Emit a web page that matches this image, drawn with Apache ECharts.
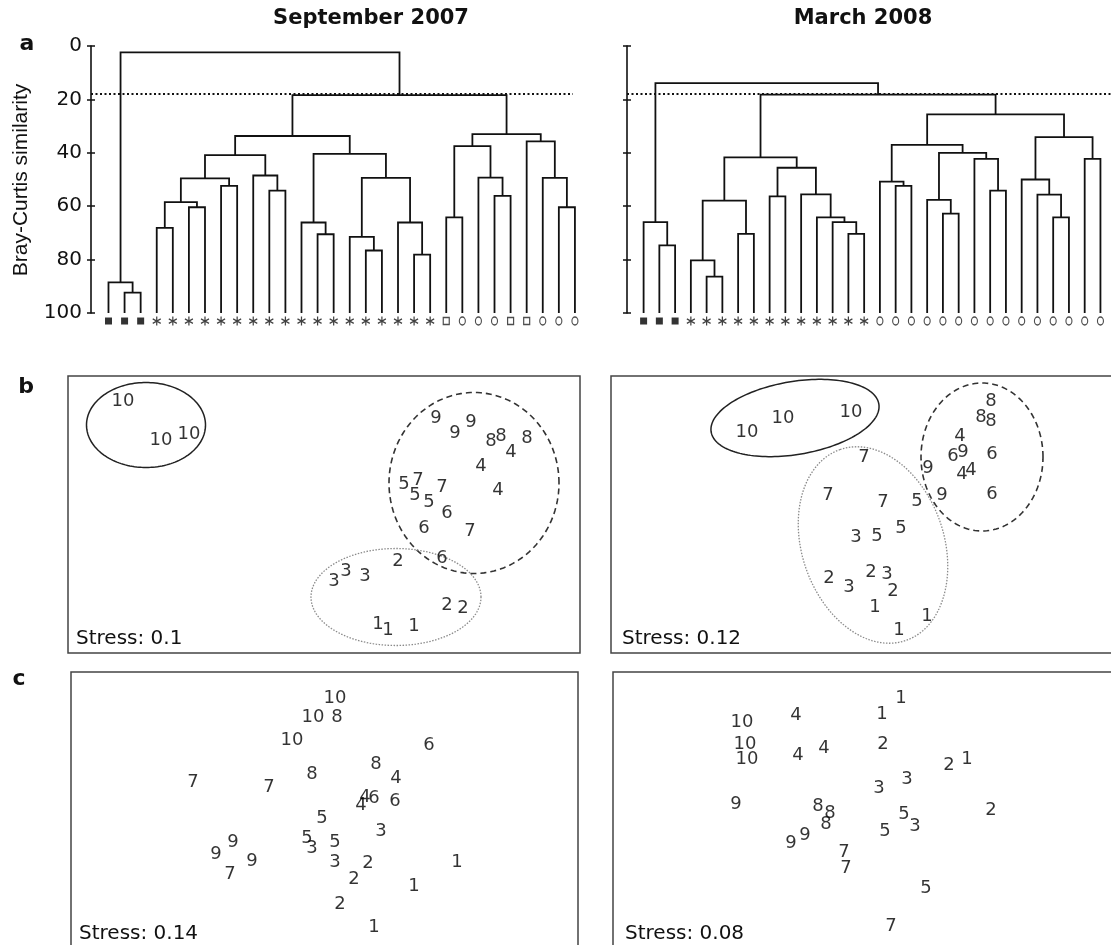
<!DOCTYPE html>
<html>
<head>
<meta charset="utf-8">
<script src="https://cdn.jsdelivr.net/npm/echarts@6/dist/echarts.min.js"></script>
<style>
html, body { margin: 0; padding: 0; background: #fff; }
#chart { width: 1111px; height: 945px; }
</style>
</head>
<body>
<div id="chart"></div>
<script>
// ---- data ----
const simTicks = [0, 20, 40, 60, 80, 100];
const cutLevel = 18;

// merges like hclust: negative = leaf -(i+1), positive = earlier merge (1-based), then height
const sepMerges = [
  [-2, -3, 92.4], [-1, 1, 88.5], [-4, -5, 68.1], [-6, -7, 60.4], [3, 4, 58.5],
  [-8, -9, 52.4], [5, 6, 49.6], [-11, -12, 54.2], [-10, 8, 48.5], [7, 9, 40.9],
  [-14, -15, 70.5], [-13, 11, 66.1], [-17, -18, 76.6], [-16, 13, 71.5], [-20, -21, 78.1],
  [-19, 15, 66.1], [14, 16, 49.4], [12, 17, 40.4], [10, 18, 33.7], [-22, -23, 64.2],
  [-25, -26, 56.1], [-24, 21, 49.3], [20, 22, 37.5], [-29, -30, 60.4], [-28, 24, 49.4],
  [-27, 25, 35.7], [23, 26, 33.0], [19, 27, 18.4], [2, 28, 2.4]
];
const marMerges = [
  [-2, -3, 74.7], [-1, 1, 66.0], [-5, -6, 86.4], [-4, 3, 80.3], [-7, -8, 70.4],
  [4, 5, 57.9], [-9, -10, 56.3], [-14, -15, 70.4], [-13, 8, 66.0], [-12, 9, 64.2],
  [-11, 10, 55.6], [7, 11, 45.6], [6, 12, 41.7], [-17, -18, 52.4], [-16, 14, 50.8],
  [-20, -21, 62.8], [-19, 16, 57.6], [-23, -24, 54.2], [-22, 18, 42.3], [17, 19, 40.0],
  [15, 20, 37.0], [-27, -28, 64.2], [-26, 22, 55.7], [-25, 23, 50.0], [-29, -30, 42.3],
  [24, 25, 34.1], [21, 26, 25.6], [13, 27, 18.2], [2, 28, 13.9]
];
// S = filled square, A = asterisk, C = open circle, Q = open square
const sepLeafType = 'SSSAAAAAAAAAAAAAAAAAAQCCCQQCCC';
const marLeafType = 'SSSAAAAAAAAAAAACCCCCCCCCCCCCCC';

// NMDS ordinations: [x, y, site label]
const bSepPts = [
  [55, 252, '10'], [93, 213, '10'], [121, 219, '10'],
  [368, 235, '9'], [387, 220, '9'], [403, 231, '9'],
  [423, 212, '8'], [433, 217, '8'], [443, 201, '4'], [459, 215, '8'], [413, 187, '4'],
  [336, 169, '5'], [350, 173, '7'], [347, 158, '5'], [361, 151, '5'], [374, 166, '7'], [430, 163, '4'],
  [379, 140, '6'], [356, 125, '6'], [402, 122, '7'], [330, 92, '2'], [374, 95, '6'],
  [266, 72, '3'], [278, 82, '3'], [297, 77, '3'], [379, 48, '2'], [395, 45, '2'],
  [310, 29, '1'], [320, 23, '1'], [346, 27, '1']
];
const bMarPts = [
  [136, 221, '10'], [172, 235, '10'], [240, 241, '10'],
  [380, 252, '8'], [370, 236, '8'], [380, 232, '8'], [349, 217, '4'],
  [342, 197, '6'], [352, 201, '9'], [381, 199, '6'], [317, 185, '9'], [351, 179, '4'], [360, 183, '4'],
  [253, 196, '7'], [217, 158, '7'], [272, 151, '7'], [306, 152, '5'], [331, 158, '9'], [381, 159, '6'],
  [245, 116, '3'], [266, 117, '5'], [290, 125, '5'],
  [218, 75, '2'], [238, 66, '3'], [260, 81, '2'], [276, 79, '3'], [282, 62, '2'],
  [264, 46, '1'], [316, 37, '1'], [288, 23, '1']
];
const cSepPts = [
  [264, 252, '10'], [242, 233, '10'], [266, 233, '8'], [221, 210, '10'], [358, 205, '6'],
  [305, 186, '8'], [325, 172, '4'], [122, 168, '7'], [198, 163, '7'], [241, 176, '8'],
  [290, 145, '4'], [294, 153, '4'], [303, 152, '6'], [324, 149, '6'], [251, 132, '5'],
  [310, 119, '3'], [236, 112, '5'], [241, 102, '3'], [264, 108, '5'], [162, 108, '9'],
  [145, 96, '9'], [181, 89, '9'], [159, 76, '7'], [264, 88, '3'], [297, 87, '2'],
  [283, 71, '2'], [386, 88, '1'], [343, 64, '1'], [269, 46, '2'], [303, 23, '1']
];
const cMarPts = [
  [288, 252, '1'], [269, 236, '1'], [129, 228, '10'], [183, 235, '4'], [132, 206, '10'],
  [134, 191, '10'], [185, 195, '4'], [211, 202, '4'], [270, 206, '2'], [336, 185, '2'],
  [354, 191, '1'], [294, 171, '3'], [266, 162, '3'], [123, 146, '9'], [205, 144, '8'],
  [217, 137, '8'], [213, 126, '8'], [291, 136, '5'], [302, 124, '3'], [272, 119, '5'],
  [378, 140, '2'], [192, 115, '9'], [178, 107, '9'], [231, 98, '7'], [233, 82, '7'],
  [313, 62, '5'], [278, 24, '7']
];
// group ellipses: [cx, cy, rx, ry, rotation deg, style 0 solid / 1 dashed / 2 dotted]
const bSepEllipses = [[78, 228, 59.5, 42.5, 0, 0], [406, 170, 85, 90.5, 0, 1], [328, 56, 85, 48.5, 0, 2]];
const bMarEllipses = [[184, 235, 85, 36.5, 9.5, 0], [371, 196, 61, 74, 0, 1], [262, 108, 101, 71, 109, 2]];

// ---- helpers ----
function dendroSegments(merges) {
  const nodeX = [], nodeH = [], segs = [];
  const pos = r => (r < 0 ? [-r - 1, 100] : [nodeX[r - 1], nodeH[r - 1]]);
  merges.forEach(([a, b, h]) => {
    const pa = pos(a), pb = pos(b);
    segs.push({ coords: [[pa[0], pa[1]], [pa[0], h], [pb[0], h], [pb[0], pb[1]]] });
    nodeX.push((pa[0] + pb[0]) / 2);
    nodeH.push(h);
  });
  return segs;
}

const astPath = 'path://M5,0L5,10M0.7,2.5L9.3,7.5M0.7,7.5L9.3,2.5';
function leafPoints(types) {
  return types.split('').map((t, i) => {
    const p = { value: [i, 103] };
    if (t === 'S') { p.symbol = 'rect'; p.symbolSize = 7; p.itemStyle = { color: '#000' }; }
    if (t === 'A') { p.symbol = astPath; p.symbolSize = [8, 9]; p.itemStyle = { color: 'none', borderColor: '#111', borderWidth: 1.3 }; }
    if (t === 'C') { p.symbol = 'circle'; p.symbolSize = [6, 8]; p.itemStyle = { color: '#fff', borderColor: '#222', borderWidth: 1.3 }; }
    if (t === 'Q') { p.symbol = 'rect'; p.symbolSize = [6, 7]; p.itemStyle = { color: '#fff', borderColor: '#222', borderWidth: 1.3 }; }
    return p;
  });
}

const ellStyle = [
  { stroke: '#222', lineWidth: 1.5 },
  { stroke: '#333', lineWidth: 1.6, lineDash: [6, 4] },
  { stroke: '#8a8a8a', lineWidth: 1.3, lineDash: [1.5, 1.5] }
];
function ellipseSeries(ells, ai) {
  return {
    type: 'custom', xAxisIndex: ai.x, yAxisIndex: ai.y, silent: true, clip: false, data: ells,
    renderItem: (params, api) => {
      const e = ells[params.dataIndex];
      const c = api.coord([e[0], e[1]]);
      const s = api.size([1, 1]);
      const r = e[4] * Math.PI / 180;
      const pts = [];
      for (let k = 0; k < 160; k++) {
        const t = k / 160 * 2 * Math.PI;
        const ux = e[2] * Math.cos(t), uy = e[3] * Math.sin(t);
        pts.push([c[0] + (ux * Math.cos(r) - uy * Math.sin(r)) * s[0],
                  c[1] - (ux * Math.sin(r) + uy * Math.cos(r)) * s[1]]);
      }
      return { type: 'polygon', shape: { points: pts }, style: Object.assign({ fill: 'none' }, ellStyle[e[5]]) };
    }
  };
}
function labelSeries(pts, ai) {
  return {
    type: 'scatter', xAxisIndex: ai.x, yAxisIndex: ai.y, silent: true, clip: false,
    symbolSize: 1, itemStyle: { color: 'rgba(0,0,0,0)' },
    label: { show: true, position: 'inside', formatter: p => p.data[2], color: '#000', fontSize: 18, fontFamily: 'DejaVu Sans' },
    data: pts
  };
}

const FONT = 'DejaVu Sans';
const hidden = { show: false };
const boxGrid = (l, t, w, h) => ({ left: l, top: t, width: w, height: h, show: true, borderColor: '#444', borderWidth: 1.5, backgroundColor: 'transparent', outerBoundsMode: 'none' });
const simAxis = (gi, labels, inside) => ({
  gridIndex: gi, type: 'value', position: 'left', inverse: true,
  min: simTicks[0], max: simTicks[simTicks.length - 1], interval: 20,
  axisLine: { show: !inside, onZero: false, lineStyle: { color: '#111', width: 1.6 } },
  axisTick: { show: true, inside: inside, length: 4, lineStyle: { color: '#111', width: 1.5 } },
  axisLabel: { show: labels, margin: 9, fontSize: 20, fontFamily: FONT, color: '#111' },
  splitLine: hidden
});
const nmdsX = (gi, max) => ({ gridIndex: gi, type: 'value', min: 0, max: max, show: false });
const nmdsY = (gi, max) => ({ gridIndex: gi, type: 'value', min: 0, max: max, show: false });

const text = (str, x, y, o) => ({
  type: 'text', x: x, y: y, rotation: o.rot || 0, silent: true,
  style: { text: str, fill: '#111', fontSize: o.size, fontWeight: o.bold ? 'bold' : 'normal', fontFamily: o.font || FONT, align: o.align || 'left', verticalAlign: 'middle' }
});

const chart = echarts.init(document.getElementById('chart'), null, { renderer: 'canvas' });
chart.setOption({
  animation: false,
  backgroundColor: '#fff',
  grid: [
    { left: 91, top: 46, width: 482, height: 267, outerBoundsMode: 'none' },
    { left: 627, top: 46, width: 484, height: 267, outerBoundsMode: 'none' },
    boxGrid(68, 376, 512, 277),
    boxGrid(611, 376, 512, 277),
    boxGrid(71, 672, 507, 278),
    boxGrid(613, 672, 512, 278)
  ],
  xAxis: [
    { gridIndex: 0, type: 'value', min: -1.087, max: 28.88, show: false },
    { gridIndex: 1, type: 'value', min: -1.054, max: 29.67, show: false },
    nmdsX(2, 512), nmdsX(3, 512), nmdsX(4, 507), nmdsX(5, 512)
  ],
  yAxis: [
    simAxis(0, true, false), simAxis(0, false, true),
    simAxis(1, false, false), simAxis(1, false, true),
    nmdsY(2, 277), nmdsY(3, 277), nmdsY(4, 278), nmdsY(5, 278)
  ],
  graphic: [
    text('September 2007', 371, 19, { size: 21, bold: true, align: 'center' }),
    text('March 2008', 863, 19, { size: 21, bold: true, align: 'center' }),
    text('a', 27, 44, { size: 22, bold: true, align: 'center' }),
    text('b', 26, 387, { size: 22, bold: true, align: 'center' }),
    text('c', 19, 679, { size: 22, bold: true, align: 'center' }),
    text('Bray-Curtis similarity', 21, 180, { size: 21, font: 'Liberation Sans', align: 'center', rot: Math.PI / 2 }),
    text('Stress: 0.1', 76, 639, { size: 20 }),
    text('Stress: 0.12', 622, 639, { size: 20 }),
    text('Stress: 0.14', 79, 934, { size: 20 }),
    text('Stress: 0.08', 625, 934, { size: 20 })
  ],
  series: [
    { type: 'lines', coordinateSystem: 'cartesian2d', xAxisIndex: 0, yAxisIndex: 0, polyline: true, silent: true, clip: false,
      lineStyle: { color: '#111', width: 1.8, opacity: 1 }, data: dendroSegments(sepMerges) },
    { type: 'scatter', xAxisIndex: 0, yAxisIndex: 0, silent: true, clip: false, data: leafPoints(sepLeafType),
      markLine: { silent: true, symbol: 'none', label: hidden, data: [{ yAxis: cutLevel }], lineStyle: { color: '#111', width: 2, type: [2, 2.5] } } },
    { type: 'lines', coordinateSystem: 'cartesian2d', xAxisIndex: 1, yAxisIndex: 2, polyline: true, silent: true, clip: false,
      lineStyle: { color: '#111', width: 1.8, opacity: 1 }, data: dendroSegments(marMerges) },
    { type: 'scatter', xAxisIndex: 1, yAxisIndex: 2, silent: true, clip: false, data: leafPoints(marLeafType),
      markLine: { silent: true, symbol: 'none', label: hidden, data: [{ yAxis: cutLevel }], lineStyle: { color: '#111', width: 2, type: [2, 2.5] } } },
    ellipseSeries(bSepEllipses, { x: 2, y: 4 }),
    labelSeries(bSepPts, { x: 2, y: 4 }),
    ellipseSeries(bMarEllipses, { x: 3, y: 5 }),
    labelSeries(bMarPts, { x: 3, y: 5 }),
    labelSeries(cSepPts, { x: 4, y: 6 }),
    labelSeries(cMarPts, { x: 5, y: 7 })
  ]
});
</script>
</body>
</html>
